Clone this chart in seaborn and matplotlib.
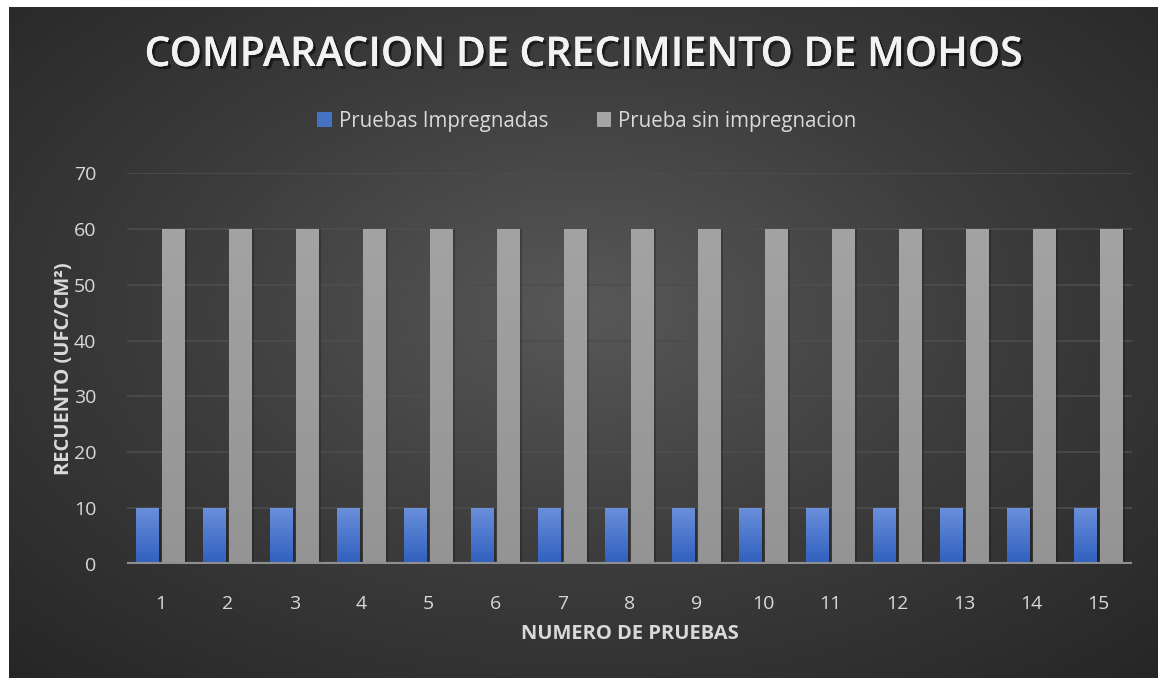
import numpy as np
import pandas as pd
import matplotlib
matplotlib.use('Agg')
import matplotlib.pyplot as plt
import matplotlib.patheffects as pe
from matplotlib.patches import Patch
from matplotlib.colors import LinearSegmentedColormap
import seaborn as sns

# datos del grafico
pruebas = ['1', '2', '3', '4', '5', '6', '7', '8', '9', '10', '11', '12', '13', '14', '15']
impregnadas = [10, 10, 10, 10, 10, 10, 10, 10, 10, 10, 10, 10, 10, 10, 10]
sin_impregnacion = [60, 60, 60, 60, 60, 60, 60, 60, 60, 60, 60, 60, 60, 60, 60]
series = ['Pruebas Impregnadas', 'Prueba sin impregnacion']

df = pd.DataFrame({
    'prueba': pruebas * 2,
    'serie': [series[0]] * len(pruebas) + [series[1]] * len(pruebas),
    'valor': impregnadas + sin_impregnacion,
})

sns.set_theme(style='dark')
plt.rcParams['font.family'] = ['Open Sans', 'DejaVu Sans']

W, H = 1158, 678
fig = plt.figure(figsize=(W / 100, H / 100), dpi=100, facecolor='white')

# fondo con degradado radial (deja un borde blanco arriba e izquierda)
bg = fig.add_axes([9 / W, 0, 1 - 9 / W, 1 - 7 / H])
yy, xx = np.mgrid[0:400, 0:700]
cx, cy = 350, 180
r = np.sqrt(((xx - cx) / 700) ** 2 + ((yy - cy) / 420) ** 2)
r = np.clip(r / 0.75, 0, 1)
bg_cmap = LinearSegmentedColormap.from_list('bg', ['#585858', '#3c3c3c', '#262626'])
bg.imshow(r, cmap=bg_cmap, aspect='auto', extent=(0, 1, 0, 1), origin='upper')
bg.set_axis_off()

ax = fig.add_axes([127 / W, 1 - 564 / H, (1132 - 127) / W, (564 - 173) / H])
ax.patch.set_alpha(0)

palette = {series[0]: '#4472c4', series[1]: '#9d9d9d'}
sns.barplot(data=df, x='prueba', y='valor', hue='serie', order=pruebas,
            hue_order=series, palette=palette, width=0.78, gap=0.15,
            saturation=1, legend=False, ax=ax, zorder=3, linewidth=0)

# degradado vertical en las barras
grad_blue = LinearSegmentedColormap.from_list('gb', ['#2f5fbe', '#6a8fdb'])
grad_gray = LinearSegmentedColormap.from_list('gg', ['#949494', '#a3a3a3'])
grad = np.linspace(0, 1, 100).reshape(-1, 1)
bars = list(ax.patches)
for i, bar in enumerate(bars):
    x0, y0 = bar.get_x(), bar.get_y()
    w, h = bar.get_width(), bar.get_height()
    if h <= 0:
        continue
    cm = grad_blue if i < len(pruebas) else grad_gray
    # sombra suave a la derecha
    ax.bar(x0 + w / 2 + 0.035, h, width=w, bottom=y0, color='black', alpha=0.22,
           linewidth=0, zorder=2)
    im = ax.imshow(grad, cmap=cm, origin='lower', aspect='auto',
                   extent=(x0, x0 + w, y0, y0 + h), zorder=4)
    im.set_clip_path(bar)

ax.set_xlim(-0.5, len(pruebas) - 0.5)
ax.set_ylim(0, 70)
ax.set_yticks(range(0, 71, 10))
ax.grid(axis='y', color='#4d4d4d', linewidth=1.2, zorder=0)
ax.grid(axis='x', visible=False)
ax.axhline(0, color='#8f8f8f', linewidth=3, zorder=5)
for s in ax.spines.values():
    s.set_visible(False)

ax.tick_params(axis='both', length=0, labelsize=14, labelcolor='#d9d9d9')
ax.tick_params(axis='x', pad=22)
ax.tick_params(axis='y', pad=22)

ax.set_xlabel('NUMERO DE PRUEBAS', fontsize=14.5, fontweight='bold', color='#d9d9d9', labelpad=8)
ax.set_ylabel('RECUENTO (UFC/CM²)', fontsize=14.5, fontweight='bold', color='#d9d9d9', labelpad=0)

fig.text(584 / W, 1 - 55 / H, 'COMPARACION DE CRECIMIENTO DE MOHOS', ha='center', va='center',
         fontsize=29.5, fontweight='semibold', color='#f2f2f2',
         path_effects=[pe.withSimplePatchShadow(offset=(2, -2), shadow_rgbFace='black', alpha=0.5), pe.Normal()])

handles = [Patch(facecolor='#4472c4', linewidth=0), Patch(facecolor='#a5a5a5', linewidth=0)]
fig.legend(handles, series, loc='center', bbox_to_anchor=(587 / W, 1 - 121 / H), ncol=2,
           frameon=False, fontsize=14.8, labelcolor='#d9d9d9', handlelength=0.7, handleheight=0.7,
           handletextpad=0.35, columnspacing=2.35)

fig.savefig('out.png', dpi=100, facecolor='white')
